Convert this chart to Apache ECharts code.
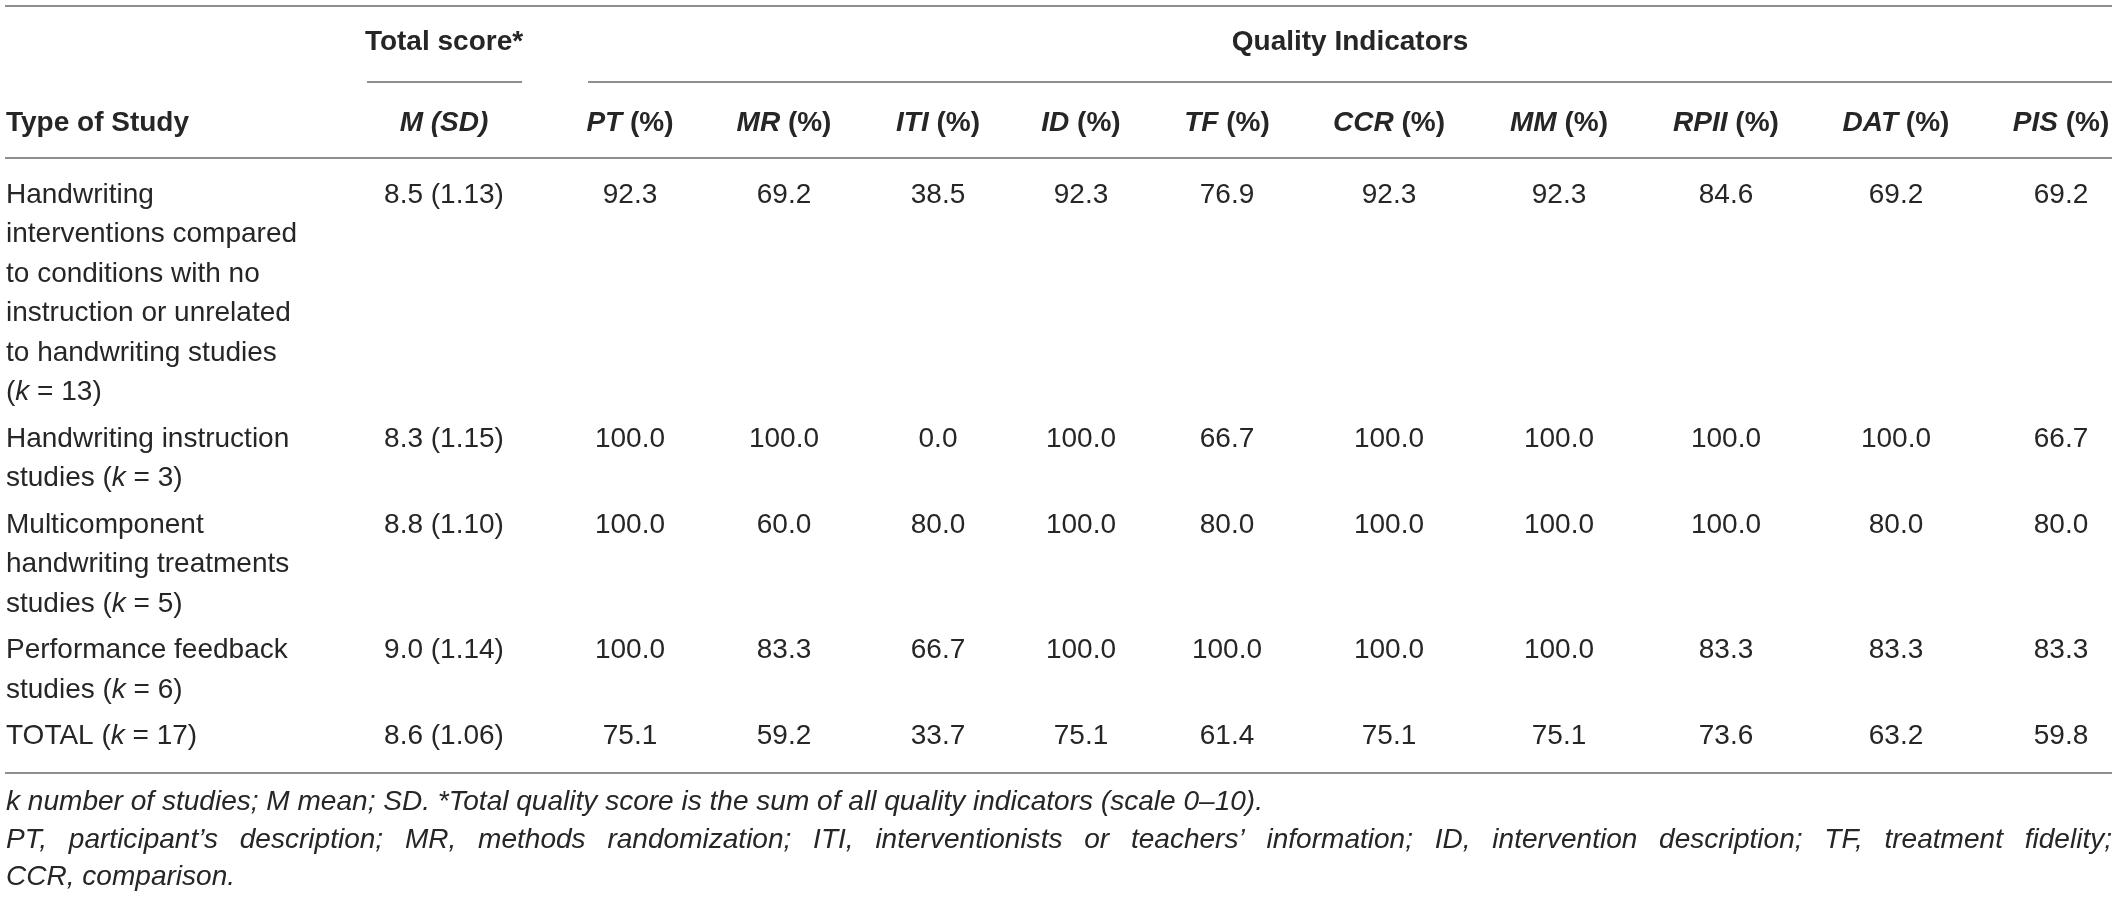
<!DOCTYPE html>
<html>
<head>
<meta charset="utf-8">
<title>Quality indicators table</title>
<script src="https://cdn.jsdelivr.net/npm/echarts@6/dist/echarts.min.js"></script>
<style>
    html, body { margin: 0; padding: 0; background: #fff; }
    #quality_table { width: 2118px; height: 897px; }
</style>
</head>
<body>
<div id="quality_table"></div>
<script>
// Table data
// ------------------------------

var studyTypes = [
    'Handwriting\ninterventions compared\nto conditions with no\ninstruction or unrelated\nto handwriting studies\n({i|k} = 13)',
    'Handwriting instruction\nstudies ({i|k} = 3)',
    'Multicomponent\nhandwriting treatments\nstudies ({i|k} = 5)',
    'Performance feedback\nstudies ({i|k} = 6)',
    'TOTAL ({i|k} = 17)'
];

var meanScores = [8.5, 8.3, 8.8, 9.0, 8.6];
var sdScores = [1.13, 1.15, 1.10, 1.14, 1.06];

var indicatorNames = ['PT', 'MR', 'ITI', 'ID', 'TF', 'CCR', 'MM', 'RPII', 'DAT', 'PIS'];

var ptValues   = [92.3, 100.0, 100.0, 100.0, 75.1];
var mrValues   = [69.2, 100.0, 60.0, 83.3, 59.2];
var itiValues  = [38.5, 0.0, 80.0, 66.7, 33.7];
var idValues   = [92.3, 100.0, 100.0, 100.0, 75.1];
var tfValues   = [76.9, 66.7, 80.0, 100.0, 61.4];
var ccrValues  = [92.3, 100.0, 100.0, 100.0, 75.1];
var mmValues   = [92.3, 100.0, 100.0, 100.0, 75.1];
var rpiiValues = [84.6, 100.0, 100.0, 83.3, 73.6];
var datValues  = [69.2, 100.0, 80.0, 83.3, 63.2];
var pisValues  = [69.2, 66.7, 80.0, 83.3, 59.8];

var indicatorValues = [ptValues, mrValues, itiValues, idValues, tfValues,
    ccrValues, mmValues, rpiiValues, datValues, pisValues];

var footnotes = [
    'k number of studies; M mean; SD. *Total quality score is the sum of all quality indicators (scale 0\u201310).',
    'PT, participant\u2019s description; MR, methods randomization; ITI, interventionists or teachers\u2019 information; ID, intervention description; TF, treatment fidelity;',
    'CCR, comparison.'
];


// Setup module
// ------------------------------

var QualityTable = function() {

    var FONT = '"Liberation Sans", Arial, Helvetica, sans-serif';
    var INK = '#262626';
    var RULE = '#8f8f8f';
    var SIZE = 28;
    var LINE_H = 39.5;

    // Layout
    var left = 5, right = 2112;
    var colCenters = [444, 630, 784, 938, 1081, 1227, 1389, 1559, 1726, 1896, 2061];
    var firstRowY = 195, rowGap = 7;

    var rich = {
        i: { fontFamily: FONT, fontSize: SIZE, fontStyle: 'italic', fill: INK, lineHeight: LINE_H },
        b: { fontFamily: FONT, fontSize: SIZE, fontWeight: 'bold', fill: INK, lineHeight: LINE_H },
        bi: { fontFamily: FONT, fontSize: SIZE, fontWeight: 'bold', fontStyle: 'italic', fill: INK, lineHeight: LINE_H }
    };

    var text = function(str, x, y, opts) {
        opts = opts || {};
        return {
            type: 'text',
            silent: true,
            style: {
                text: str,
                x: x,
                y: y,
                fill: INK,
                fontFamily: FONT,
                fontSize: opts.size || SIZE,
                fontWeight: opts.weight || 'normal',
                fontStyle: opts.style || 'normal',
                lineHeight: LINE_H,
                align: opts.align || 'center',
                verticalAlign: opts.valign || 'middle',
                rich: rich
            }
        };
    };

    var rule = function(x1, x2, y) {
        return {
            type: 'line',
            silent: true,
            shape: { x1: x1, y1: y, x2: x2, y2: y },
            style: { stroke: RULE, lineWidth: 2 }
        };
    };

    var _buildTable = function() {
        if (typeof echarts == 'undefined') {
            console.warn('Warning - echarts.min.js is not loaded.');
            return;
        }

        var element = document.getElementById('quality_table');
        if (!element) return;

        var chart = echarts.init(element, null, { renderer: 'canvas' });
        var els = [];

        // Rules
        els.push(rule(left, right, 6));
        els.push(rule(367, 522, 82));
        els.push(rule(588, right, 82));
        els.push(rule(left, right, 158));
        els.push(rule(left, right, 773));

        // Spanning headers
        els.push(text('Total score*', colCenters[0], 42, { weight: 'bold' }));
        els.push(text('Quality Indicators', (588 + right) / 2, 42, { weight: 'bold' }));

        // Column headers
        els.push(text('Type of Study', 6, 123, { weight: 'bold', align: 'left' }));
        els.push(text('{bi|M (SD)}', colCenters[0], 123, { weight: 'bold' }));
        indicatorNames.forEach(function(name, c) {
            els.push(text('{bi|' + name + '} {b|(%)}', colCenters[c + 1], 123, { weight: 'bold' }));
        });

        // Body rows
        var y = firstRowY;
        studyTypes.forEach(function(label, r) {
            var lines = label.split('\n').length;
            els.push(text(label, 6, y - LINE_H / 2, { align: 'left', valign: 'top' }));
            els.push(text(meanScores[r].toFixed(1) + ' (' + sdScores[r].toFixed(2) + ')', colCenters[0], y));
            indicatorValues.forEach(function(values, c) {
                els.push(text(values[r].toFixed(1), colCenters[c + 1], y));
            });
            y += lines * LINE_H + rowGap;
        });

        // Footnotes
        var ctx = document.createElement('canvas').getContext('2d');
        ctx.font = 'italic ' + SIZE + 'px ' + FONT;
        var footSize = SIZE * 1258 / ctx.measureText(footnotes[0]).width;
        ctx.font = 'italic ' + footSize + 'px ' + FONT;
        var footY = [802, 840, 877];

        els.push(text(footnotes[0], 6, footY[0], { align: 'left', style: 'italic', size: footSize }));

        // second line is justified to the table width
        var words = footnotes[1].split(' ');
        var widths = words.map(function(w) { return ctx.measureText(w).width; });
        var total = widths.reduce(function(s, w) { return s + w; }, 0);
        var gap = (right - 6 - total) / (words.length - 1);
        var x = 6;
        words.forEach(function(w, i) {
            els.push(text(w, x, footY[1], { align: 'left', style: 'italic', size: footSize }));
            x += widths[i] + gap;
        });

        els.push(text(footnotes[2], 6, footY[2], { align: 'left', style: 'italic', size: footSize }));

        chart.setOption({
            backgroundColor: '#ffffff',
            animation: false,
            graphic: { elements: els }
        });

        window.addEventListener('resize', function() {
            chart.resize();
        });
    };

    return {
        init: function() {
            _buildTable();
        }
    };
}();

document.addEventListener('DOMContentLoaded', function() {
    QualityTable.init();
});
</script>
</body>
</html>
